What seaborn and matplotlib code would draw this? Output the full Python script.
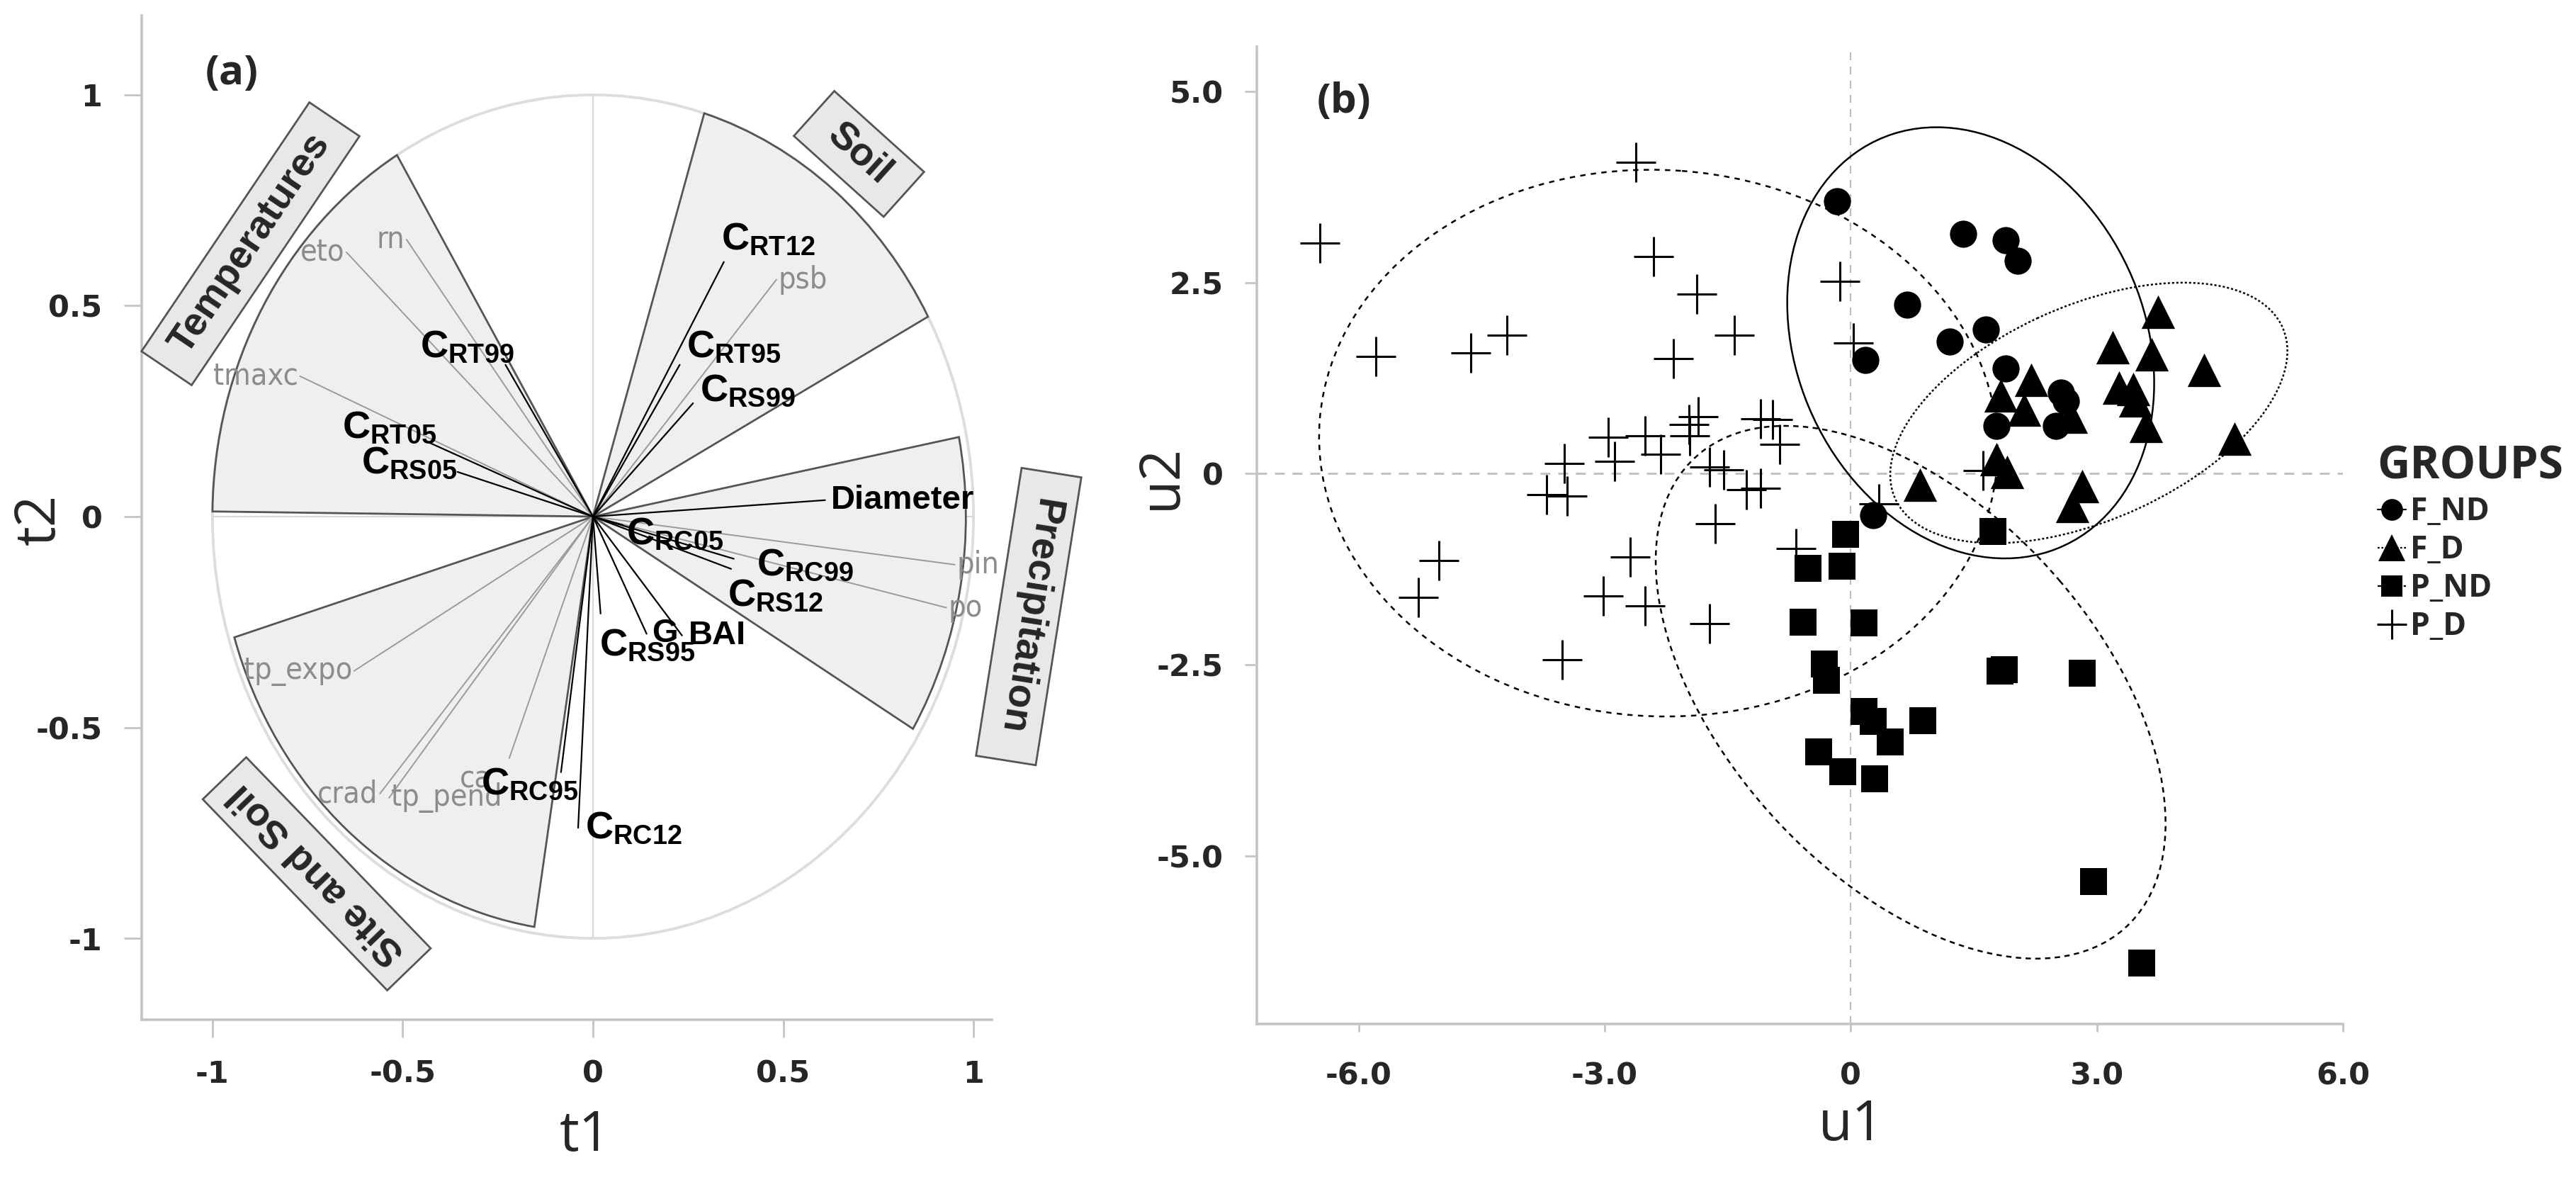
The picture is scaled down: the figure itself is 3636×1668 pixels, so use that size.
import numpy as np
import pandas as pd
import matplotlib
matplotlib.use("Agg")
import matplotlib.pyplot as plt
import seaborn as sns
from functools import partial
from matplotlib.patches import Wedge, Ellipse, Circle
from matplotlib.lines import Line2D
from matplotlib.path import Path
from matplotlib import font_manager

# ---------------- panel (a): correlation circle ----------------
sector_names = ["Temperatures", "Soil", "Precipitation", "Site and Soil"]
sector_start = [121.0, 28.3, -30.9, 196.9]
sector_end = [179.3, 73.0, 11.1, 261.0]
sector_radius = [1.0, 1.0, 0.98, 0.985]

env_names = ["eto", "rn", "tmaxc", "psb", "pin", "po", "tp_expo", "crad", "tp_pend", "ca"]
env_t1 = [-0.648, -0.49, -0.77, 0.482, 0.951, 0.929, -0.628, -0.56, -0.536, -0.22]
env_t2 = [0.627, 0.657, 0.333, 0.562, -0.114, -0.216, -0.366, -0.657, -0.667, -0.573]

resp_names = ["RT99", "RT05", "RS05", "RT12", "RT95", "RS99", "Diameter", "RC05",
              "RC99", "RS12", "RS95", "G", "BAI", "RC95", "RC12"]
resp_t1 = [-0.23, -0.434, -0.356, 0.344, 0.228, 0.263, 0.61, 0.078,
           0.37, 0.363, 0.02, 0.141, 0.234, -0.084, -0.039]
resp_t2 = [0.36, 0.177, 0.106, 0.604, 0.36, 0.269, 0.039, -0.02,
           -0.10, -0.124, -0.23, -0.278, -0.282, -0.606, -0.738]

# ---------------- panel (b): group scores ----------------
groups = ["F_ND", "F_D", "P_ND", "P_D"]
fnd_u1 = [-0.17, 1.37, 1.89, 2.04, 0.69, 1.21, 1.65, 0.18, 1.89, 2.56, 2.62, 2.50, 1.78, 0.27]
fnd_u2 = [3.56, 3.14, 3.05, 2.79, 2.21, 1.73, 1.89, 1.49, 1.38, 1.06, 0.95, 0.63, 0.63, -0.54]
fd_u1 = [3.75, 3.19, 3.67, 4.31, 2.20, 3.27, 3.44, 3.47, 1.83, 2.11, 2.68, 3.60, 4.68,
         1.78, 1.91, 0.84, 2.82, 2.70]
fd_u2 = [2.12, 1.65, 1.56, 1.36, 1.23, 1.13, 1.11, 0.96, 1.02, 0.84, 0.75, 0.63, 0.46,
         0.19, 0.02, -0.14, -0.16, -0.42]
pnd_u1 = [-0.06, 1.73, -0.52, -0.11, -0.58, 0.16, -0.32, -0.30, 1.82, 1.87, 2.82,
          0.16, 0.27, 0.88, 0.48, -0.39, -0.10, 0.29, 2.96, 3.55]
pnd_u2 = [-0.79, -0.76, -1.24, -1.21, -1.94, -1.95, -2.49, -2.70, -2.58, -2.56, -2.61,
          -3.11, -3.24, -3.23, -3.51, -3.64, -3.90, -3.99, -5.34, -6.40]
pd_u1 = [-6.47, -2.62, -2.40, -1.88, -1.42, -2.16, -5.79, -4.63, -4.19, -1.86, -1.97,
         -1.96, -2.96, -2.51, -2.32, -2.88, -3.49, -1.72, -1.55, -3.71, -3.46, -1.27,
         -1.10, -1.65, -5.02, -2.69, -0.13, 0.03, -1.10, -0.95, -0.87, 0.34, 1.61,
         -0.67, -5.27, -3.02, -2.51, -1.72, -3.52]
pd_u2 = [3.02, 4.07, 2.84, 2.35, 1.81, 1.51, 1.53, 1.58, 1.81, 0.75, 0.64,
         0.50, 0.48, 0.50, 0.25, 0.16, 0.13, 0.09, 0.05, -0.27, -0.29, -0.21,
         -0.19, -0.65, -1.14, -1.09, 2.52, 1.71, 0.72, 0.71, 0.38, -0.39, 0.04,
         -0.98, -1.62, -1.60, -1.73, -1.96, -2.43]

# ---------------- fonts ----------------
sns.set_theme(style="white")
ttf = font_manager.fontManager.ttflist
if any(f.name == "Liberation Sans Narrow" for f in ttf):
    cond = dict(family=["Liberation Sans Narrow", "DejaVu Sans"], stretch="normal")
elif any(f.name == "DejaVu Sans" and f.stretch == "condensed" for f in ttf):
    cond = dict(family=["DejaVu Sans"], stretch="condensed")
else:
    cond = dict(family=["Liberation Sans", "DejaVu Sans"], stretch="normal")
plt.rcParams["font.family"] = ["Liberation Sans", "DejaVu Sans"]
plt.rcParams["mathtext.fontset"] = "custom"
plt.rcParams["mathtext.rm"] = "Liberation Sans"
plt.rcParams["mathtext.bf"] = "Liberation Sans:bold"
plt.rcParams["mathtext.it"] = "Liberation Sans:italic"


def cfont(size, weight="normal"):
    # narrow face for the grey variable names
    return font_manager.FontProperties(family=cond["family"], stretch=cond["stretch"],
                                       weight=weight, size=size)


def ofont(size, weight="normal"):
    # axis labels / legend text
    return font_manager.FontProperties(family=["Open Sans", "DejaVu Sans"],
                                       weight=weight, size=size)


def tag_box(x0, y0, width, height, mutation_size, padx=0.5, pady=0.3):
    px, py = padx * mutation_size, pady * mutation_size
    x0, y0 = x0 - px, y0 - py
    x1, y1 = x0 + width + 2 * px, y0 + height + 2 * py
    return Path([(x0, y0), (x1, y0), (x1, y1), (x0, y1), (x0, y0)], closed=True)


fig = plt.figure(figsize=(18.18, 8.34), dpi=200)
axa = fig.add_axes([0.055, 0.1373, 0.330, 0.8495])
axb = fig.add_axes([0.4879, 0.1337, 0.4216, 0.827])

spine_col = "#c4c4c4"

# ===== panel (a) =====
axa.add_patch(Circle((0, 0), 1.0, fill=False, ec="#dddddd", lw=1.4, zorder=1))
axa.hlines(0, -1, 1, color="#d8d8d8", lw=0.8, zorder=1)
axa.vlines(0, -1, 1, color="#d8d8d8", lw=0.8, zorder=1)
for r, a0, a1 in zip(sector_radius, sector_start, sector_end):
    axa.add_patch(Wedge((0, 0), r, a0, a1, fc="#efefef", ec="#555555", lw=1.0, zorder=2))

seg_env = pd.DataFrame({
    "var": np.repeat(env_names, 2),
    "t1": np.ravel([[0, v] for v in env_t1]),
    "t2": np.ravel([[0, v] for v in env_t2]),
})
seg_resp = pd.DataFrame({
    "var": np.repeat(resp_names, 2),
    "t1": np.ravel([[0, v] for v in resp_t1]),
    "t2": np.ravel([[0, v] for v in resp_t2]),
})
sns.lineplot(data=seg_env, x="t1", y="t2", units="var", estimator=None, sort=False,
             color="#9a9a9a", lw=0.7, ax=axa, zorder=3)
sns.lineplot(data=seg_resp, x="t1", y="t2", units="var", estimator=None, sort=False,
             color="black", lw=0.8, ax=axa, zorder=4)

# alignment and offset (points) of the grey labels
env_layout = {"eto": ("right", "center", -1, 0), "rn": ("right", "center", -1, 0),
              "tmaxc": ("right", "center", -1, 0), "psb": ("left", "center", 1, 0),
              "pin": ("left", "center", 1, 0), "po": ("left", "center", 1, 0),
              "tp_expo": ("right", "center", -1, 0), "crad": ("right", "center", -1, 0),
              "tp_pend": ("left", "center", 1, 0), "ca": ("right", "top", -9, -3)}
for n, x, y in zip(env_names, env_t1, env_t2):
    ha, va, dx, dy = env_layout[n]
    axa.annotate(n, (x, y), xytext=(dx, dy), textcoords="offset points",
                 ha=ha, va=va, color="#8c8c8c", fontproperties=cfont(15.5), zorder=5)

# label alignment and offset (points) for response variables
resp_layout = {"RT99": ("right", "bottom", 4.3, 0), "RT05": ("right", "center", 4.3, 7.2),
               "RS05": ("right", "center", 0, 4.3), "RT12": ("left", "bottom", -1.4, 2.2),
               "RT95": ("left", "bottom", 3.6, 0), "RS99": ("left", "bottom", 3.6, -2.9),
               "Diameter": ("left", "center", 3.0, 0), "RC05": ("left", "top", 1.8, 4.3),
               "RC99": ("left", "center", 11.5, -3.2), "RS12": ("left", "top", -1.8, -4.7),
               "RS95": ("left", "top", -0.7, -7.2), "G": ("left", "center", 2.5, 0),
               "BAI": ("left", "center", 3.2, 0), "RC95": ("right", "center", 9, -6.1),
               "RC12": ("left", "center", 3.6, 0)}
for n, x, y in zip(resp_names, resp_t1, resp_t2):
    ha, va, dx, dy = resp_layout[n]
    if n in ("Diameter", "G", "BAI"):
        lab, fs = n, 17
    else:
        lab, fs = r"$\mathbf{C}_{\mathbf{%s}}$" % n, 19.5
    axa.annotate(lab, (x, y), xytext=(dx, dy), textcoords="offset points", ha=ha, va=va,
                 fontsize=fs, fontweight="bold", color="black", zorder=6)

# sector tag boxes: position (data), rotation, horizontal padding
box_layout = {"Temperatures": (-0.90, 0.647, 56, 0.55), "Soil": (0.699, 0.86, -42, 0.62),
              "Precipitation": (1.145, -0.237, -99, 0.68),
              "Site and Soil": (-0.726, -0.847, 134, 0.38)}
for n in sector_names:
    x, y, rot, padx = box_layout[n]
    axa.text(x, y, n, rotation=rot, rotation_mode="anchor", ha="center", va="center",
             fontsize=20, fontweight="bold", clip_on=False, zorder=7,
             bbox=dict(boxstyle=partial(tag_box, padx=padx, pady=0.3),
                       fc="#e8e8e8", ec="#555555", lw=1.0))

axa.text(-0.95, 1.05, "(a)", fontproperties=ofont(21, "bold"), ha="center", va="center")

axa.set_xlim(-1.186, 1.048)
axa.set_ylim(-1.193, 1.188)
axa.set_xticks([-1, -0.5, 0, 0.5, 1])
axa.set_xticklabels(["-1", "-0.5", "0", "0.5", "1"])
axa.set_yticks([-1, -0.5, 0, 0.5, 1])
axa.set_yticklabels(["-1", "-0.5", "0", "0.5", "1"])
axa.set_xlabel("t1", fontproperties=ofont(28))
axa.set_ylabel("t2", fontproperties=ofont(28))
axa.xaxis.set_label_coords(0.522, -0.116)
axa.yaxis.set_label_coords(-0.12, 0.498)
axa.xaxis.label.set_va("center")
axa.yaxis.label.set_va("center")

# ===== panel (b) =====
axb.axvline(0, color="#bdbdbd", lw=0.8, ls=(0, (5, 4)), zorder=1)
axb.axhline(0, color="#bdbdbd", lw=1.0, ls=(0, (5, 4)), zorder=1)

gdata = {"F_ND": (fnd_u1, fnd_u2), "F_D": (fd_u1, fd_u2),
         "P_ND": (pnd_u1, pnd_u2), "P_D": (pd_u1, pd_u2)}
gmark = {"F_ND": ("o", 190), "F_D": ("^", 290), "P_ND": ("s", 190), "P_D": ("+", 400)}
gline = {"F_ND": "-", "F_D": (0, (1.2, 1.2)), "P_ND": (0, (3, 2.5)), "P_D": (0, (3, 3))}

n_std = np.sqrt(5.991)  # 95 % confidence region
for g in groups:
    x, y = np.array(gdata[g][0]), np.array(gdata[g][1])
    cov = np.cov(x, y)
    vals, vecs = np.linalg.eigh(cov)
    order = vals.argsort()[::-1]
    vals, vecs = vals[order], vecs[:, order]
    ang = np.degrees(np.arctan2(vecs[1, 0], vecs[0, 0]))
    w, h = 2 * n_std * np.sqrt(vals)
    axb.add_patch(Ellipse((x.mean(), y.mean()), w, h, angle=ang, fill=False,
                          ec="black", lw=0.9, ls=gline[g], zorder=2))

for g in groups:
    m, s = gmark[g]
    if m == "+":
        sns.scatterplot(x=gdata[g][0], y=gdata[g][1], marker=m, s=s, color="black",
                        linewidth=1.1, ax=axb, zorder=3)
    else:
        sns.scatterplot(x=gdata[g][0], y=gdata[g][1], marker=m, s=s, color="black",
                        edgecolor="black", linewidth=0, ax=axb, zorder=3)

axb.set_xlim(-7.24, 6.0)
axb.set_ylim(-7.2, 5.59)
axb.set_xticks([-6, -3, 0, 3, 6])
axb.set_xticklabels(["-6.0", "-3.0", "0", "3.0", "6.0"])
axb.set_yticks([5, 2.5, 0, -2.5, -5])
axb.set_yticklabels(["5.0", "2.5", "0", "-2.5", "-5.0"])
axb.set_xlabel("u1", fontproperties=ofont(28))
axb.set_ylabel("u2", fontproperties=ofont(28))
axb.xaxis.set_label_coords(0.547, -0.104)
axb.yaxis.set_label_coords(-0.0875, 0.56)
axb.xaxis.label.set_va("center")
axb.yaxis.label.set_va("center")
axb.text(-6.18, 4.86, "(b)", fontproperties=ofont(21, "bold"), ha="center", va="center")

handles = []
for g in groups:
    m, s = gmark[g]
    handles.append(Line2D([], [], color="black", marker=m, ls=gline[g], lw=0.8,
                          ms=np.sqrt(s) * (0.8 if m != "+" else 0.75),
                          mew=1.1 if m == "+" else 0))
leg = axb.legend(handles, groups, title="GROUPS", loc="upper left",
                 bbox_to_anchor=(0.918, 0.635), bbox_transform=fig.transFigure,
                 frameon=False, handlelength=0.9, handletextpad=0.15, labelspacing=0.2,
                 borderaxespad=0, alignment="left",
                 prop=ofont(16, "bold"),
                 title_fontproperties=ofont(23, "bold"))

# ===== shared axis styling =====
tick_fp = font_manager.FontProperties(family=["DejaVu Sans"], weight="bold", size=15.5)
for ax in (axa, axb):
    for side in ("top", "right"):
        ax.spines[side].set_visible(False)
    for side in ("left", "bottom"):
        ax.spines[side].set_color(spine_col)
        ax.spines[side].set_linewidth(1.3)
    ax.tick_params(axis="both", which="major", direction="out", color=spine_col,
                   width=1.0, left=True, bottom=True)
    for lab in ax.get_xticklabels() + ax.get_yticklabels():
        lab.set_fontproperties(tick_fp)
axa.tick_params(axis="both", length=9, pad=11)
axb.tick_params(axis="x", length=4, pad=15)
axb.tick_params(axis="y", length=6, pad=11)

fig.savefig("out.png", dpi=200, facecolor="white")
